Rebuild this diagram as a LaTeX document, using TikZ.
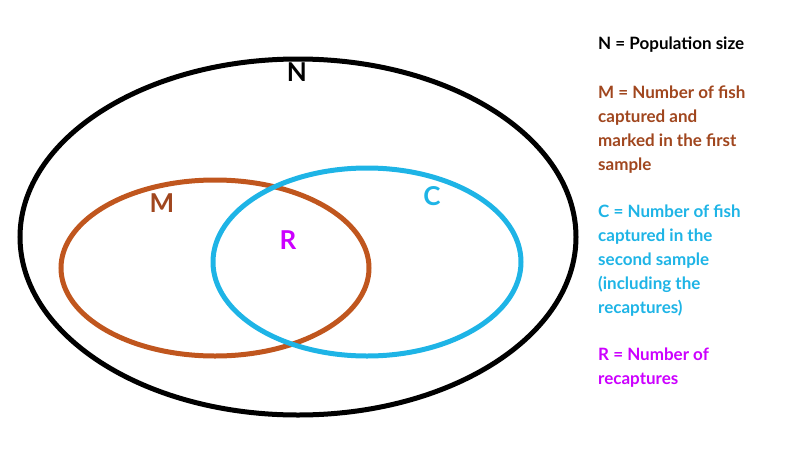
\documentclass[tikz,border=0pt]{standalone}
\usepackage{fontspec}
\setmainfont{Lato}
\definecolor{colm}{HTML}{C0561E}
\definecolor{colmt}{HTML}{A0461E}
\definecolor{colc}{HTML}{1EB4E6}
\definecolor{colr}{HTML}{CC00FF}
\tikzset{ring/.style={line width=5pt},
 big/.style={font=\fontsize{26}{28}\selectfont\bfseries},
 txt/.style={anchor=north west,align=left,inner sep=0pt,font=\fontsize{17}{23.8}\selectfont\bfseries}}
\begin{document}
\begin{tikzpicture}[x=1pt,y=-1pt]
\useasboundingbox (0,0) rectangle (800,450);
\draw[ring,black] (298,237) ellipse [x radius=278, y radius=178];
\draw[ring,colm] (215,268) ellipse [x radius=154, y radius=88];
\draw[ring,colc] (367,262) ellipse [x radius=154, y radius=94];
\node[big] (n) at (297,72) {N};
\node[big,text=colmt] (m) at (162,203) {M};
\node[big,text=colr] (r) at (288,240) {R};
\node[big,text=colc] (c) at (432,196) {C};
\node[txt] (tn) at (598,37) {N = Population size};
\node[txt,text=colmt] (tm) at (598,86) {M = Number of fish\\captured and\\marked in the first\\sample};
\node[txt,text=colc] (tc) at (598,205) {C = Number of fish\\captured in the\\second sample\\(including the\\recaptures)};
\node[txt,text=colr] (tr) at (598,348) {R = Number of\\recaptures};
\end{tikzpicture}
\end{document}
